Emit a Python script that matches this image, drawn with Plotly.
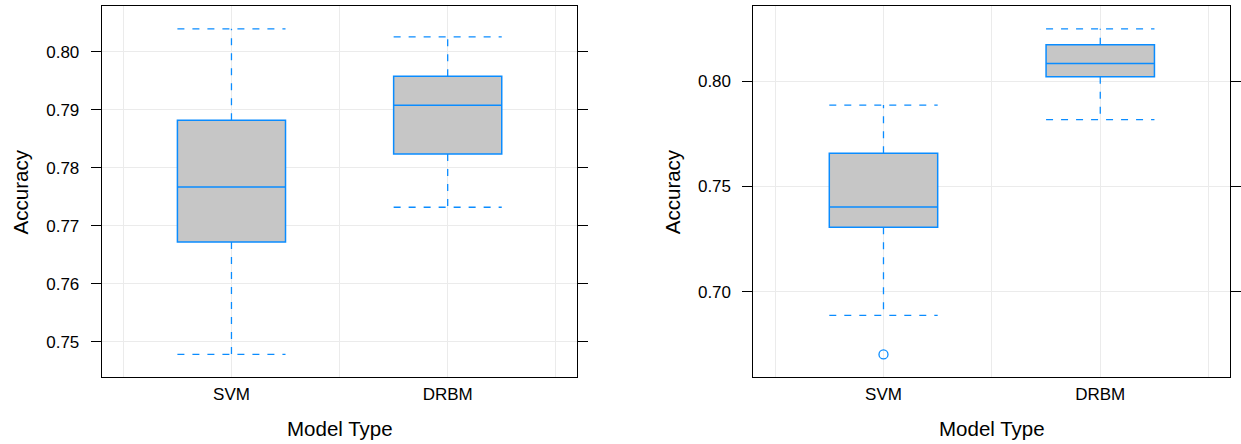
import plotly.graph_objects as go

# ---------------- data ----------------
models = ["SVM", "DRBM"]
positions = [1, 2]

# Panel A (left)
a_low = [0.7478, 0.7732]
a_q1 = [0.7672, 0.7824]
a_median = [0.7767, 0.7908]
a_q3 = [0.7882, 0.7958]
a_high = [0.8040, 0.8026]
a_outliers_x = []
a_outliers_y = []

# Panel B (right)
b_low = [0.6888, 0.7817]
b_q1 = [0.7306, 0.8020]
b_median = [0.7402, 0.8083]
b_q3 = [0.7657, 0.8172]
b_high = [0.7886, 0.8248]
b_outliers_x = [1]
b_outliers_y = [0.6703]

a_ticks = [0.75, 0.76, 0.77, 0.78, 0.79, 0.80]
b_ticks = [0.70, 0.75, 0.80]

# ---------------- style ----------------
W, H = 1241, 444
BLUE = "#0A8CFF"
FILL = "#C6C6C6"
GRID = "#EBEBEB"
FONT = "Liberation Sans"
CAP = 0.25  # half width of box / whisker caps (category units)

fig = go.Figure()


def add_panel(fig, xa, ya, low, q1, med, q3, high, ox, oy):
    fig.add_trace(go.Box(
        x=positions, q1=q1, median=med, q3=q3,
        lowerfence=q1, upperfence=q3,
        width=0.5, fillcolor=FILL,
        line=dict(color=BLUE, width=1.5),
        boxpoints=False, showlegend=False, hoverinfo="skip",
        xaxis=xa, yaxis=ya,
    ))
    wx, wy = [], []
    for p, lo, a, b, hi in zip(positions, low, q1, q3, high):
        wx += [p, p, None, p, p, None, p - CAP, p + CAP, None, p - CAP, p + CAP, None]
        wy += [b, hi, None, a, lo, None, hi, hi, None, lo, lo, None]
    fig.add_trace(go.Scatter(
        x=wx, y=wy, mode="lines",
        line=dict(color=BLUE, width=1.3, dash="7px,8px"),
        showlegend=False, hoverinfo="skip", xaxis=xa, yaxis=ya,
    ))
    if oy:
        fig.add_trace(go.Scatter(
            x=ox, y=oy, mode="markers",
            marker=dict(symbol="circle-open", size=9, color=BLUE,
                        line=dict(color=BLUE, width=1.3)),
            showlegend=False, hoverinfo="skip", xaxis=xa, yaxis=ya,
        ))


add_panel(fig, "x", "y", a_low, a_q1, a_median, a_q3, a_high, a_outliers_x, a_outliers_y)
add_panel(fig, "x2", "y2", b_low, b_q1, b_median, b_q3, b_high, b_outliers_x, b_outliers_y)


def yrange(vals):
    lo, hi = min(vals), max(vals)
    ext = 0.07 * (hi - lo)
    return [lo - ext, hi + ext]


ra = yrange(a_low + a_high + a_outliers_y)
rb = yrange(b_low + b_high + b_outliers_y)

xdomA = [102.3 / W, 580.7 / W]
xdomB = [757.7 / W, 1237.3 / W]
ydom = [1 - 377.2 / H, 1 - 6 / H]


def xaxis(dom, anchor):
    return dict(
        domain=dom, anchor=anchor, range=[0.4, 2.6],
        tickvals=positions, ticktext=models, ticks="",
        showline=True, mirror=True, linecolor="black", linewidth=1,
        showgrid=True, gridcolor=GRID, gridwidth=1.2,
        minor=dict(tickvals=[0.5, 1.5, 2.5], showgrid=True,
                   gridcolor=GRID, gridwidth=1.2, ticks=""),
        tickfont=dict(family=FONT, size=17, color="black"),
        ticklabelstandoff=1, zeroline=False,
    )


def yaxis(anchor, rng, ticks):
    return dict(
        domain=ydom, anchor=anchor, range=rng,
        tickvals=ticks, tickformat=".2f",
        ticks="outside", ticklen=10, tickwidth=1, tickcolor="black",
        showline=True, mirror="ticks", linecolor="black", linewidth=1,
        showgrid=True, gridcolor=GRID, gridwidth=1.2,
        tickfont=dict(family=FONT, size=17, color="black"),
        ticklabelstandoff=8, zeroline=False,
    )


annotations = []
for dom, acc_x in [(xdomA, 21), (xdomB, 676.5)]:
    annotations.append(dict(
        text="Model Type", xref="paper", yref="paper",
        x=(dom[0] + dom[1]) / 2, y=1 - 428.5 / H,
        xanchor="center", yanchor="middle", showarrow=False,
        font=dict(family=FONT, size=20.5, color="black"),
    ))
    annotations.append(dict(
        text="Accuracy", xref="paper", yref="paper",
        x=acc_x / W, y=1 - 191.5 / H, textangle=-90,
        xanchor="center", yanchor="middle", showarrow=False,
        font=dict(family=FONT, size=20.5, color="black"),
    ))

fig.update_layout(
    width=W, height=H,
    margin=dict(l=0, r=0, t=0, b=0),
    paper_bgcolor="white", plot_bgcolor="white",
    xaxis=xaxis(xdomA, "y"), yaxis=yaxis("x", ra, a_ticks),
    xaxis2=xaxis(xdomB, "y2"), yaxis2=yaxis("x2", rb, b_ticks),
    annotations=annotations,
    showlegend=False,
)

fig.write_html(
    "out.html",
    config={"displayModeBar": False},
    post_script="document.body.style.margin='0';document.body.style.overflow='hidden';",
)
